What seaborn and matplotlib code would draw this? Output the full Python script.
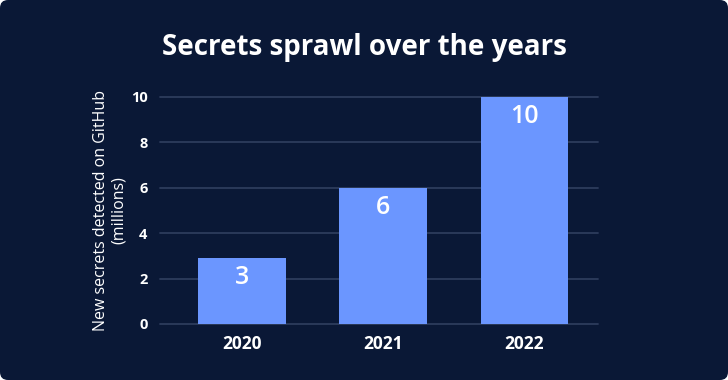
import matplotlib
matplotlib.use("Agg")
import matplotlib.pyplot as plt
from matplotlib.patches import FancyBboxPatch
import seaborn as sns
import pandas as pd

years = ["2020", "2021", "2022"]
secrets = [2.9, 6.0, 10.0]
labels = ["3", "6", "10"]
yticks = [0, 2, 4, 6, 8, 10]

bg = "#0a1836"
bar_color = "#6b96ff"
grid_color = "#2d3c5c"

sns.set_style("dark")
plt.rcParams["font.family"] = ["Open Sans", "DejaVu Sans"]

df = pd.DataFrame({"year": years, "secrets": secrets})

fig = plt.figure(figsize=(7.28, 3.8), dpi=100)
fig.patch.set_facecolor("white")
fig.patches.append(FancyBboxPatch((0, 0), 7.28, 3.8,
                                  boxstyle="round,pad=0,rounding_size=0.08",
                                  transform=fig.dpi_scale_trans,
                                  facecolor=bg, edgecolor="none", zorder=-1))

ax = fig.add_axes([0.2198, 0.1474, 0.6016, 0.5974])
sns.barplot(data=df, x="year", y="secrets", color=bar_color, width=0.62,
            saturation=1, linewidth=0, edgecolor="none", ax=ax, zorder=3)
ax.set_facecolor("none")
ax.set_xlim(-0.58, 2.52)
ax.set_ylim(0, 10)
ax.set_yticks(yticks)
for y in yticks:
    ax.axhline(y, color=grid_color, lw=1.3, zorder=1, clip_on=False)
ax.grid(False)
for s in ax.spines.values():
    s.set_visible(False)
ax.tick_params(length=0)
ax.tick_params(axis="y", pad=9, labelsize=10.5, labelcolor="white")
ax.tick_params(axis="x", pad=8, labelsize=12.5, labelcolor="white")
for t in ax.get_yticklabels() + ax.get_xticklabels():
    t.set_fontweight("bold")
ax.set_xlabel("")
ax.set_ylabel("New secrets detected on GitHub\n(millions)", color="white",
              fontsize=11.5, labelpad=3, linespacing=1.1)

for i, (v, lab) in enumerate(zip(secrets, labels)):
    ax.annotate(lab, (i, v), xytext=(0, -14), textcoords="offset points",
                ha="center", va="center", color="white", fontsize=18,
                fontweight="semibold", zorder=4)

fig.text(0.5, 0.875, "Secrets sprawl over the years", ha="center", va="center",
         color="white", fontsize=20, fontweight="bold")

fig.savefig("out.png", dpi=100, facecolor=fig.get_facecolor())
